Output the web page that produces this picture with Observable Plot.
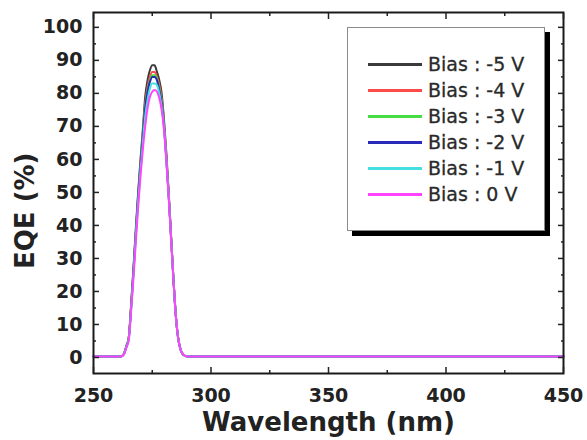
<!DOCTYPE html>
<html>
<head>
<meta charset="utf-8">
<script src="https://cdn.jsdelivr.net/npm/d3@7"></script>
<script src="https://cdn.jsdelivr.net/npm/@observablehq/plot@0.6"></script>
<style>
  html, body { margin: 0; padding: 0; background: #fff; }
  #wrap { position: relative; width: 587px; height: 440px; overflow: hidden; }
  #legend { position: absolute; left: 347px; top: 27px; width: 196px; height: 202px;
            border: 1px solid #8a8a8a; background: #fff; box-shadow: 5px 5px 0 #000;
            font-family: "DejaVu Sans", sans-serif; font-size: 19px; color: #2a2a2a;
            -webkit-text-stroke: 0.3px #2a2a2a; }
  .row { position: absolute; left: 0; height: 26px; display: flex; align-items: center; }
  .sw { width: 54px; height: 3px; margin-left: 20px; margin-right: 6px; }
</style>
</head>
<body>
<div id="wrap"></div>
<script>
const wavelengths = [250, 260, 261,
  262, 263, 264, 265, 266, 267, 268, 269, 270, 271, 272, 273, 274, 275, 276,
  277, 278, 279, 280, 281, 282, 283, 284, 285, 286, 287, 288, 289, 290,
  292, 300, 350, 400, 450];

const seriesLabels = ["Bias : -5 V", "Bias : -4 V", "Bias : -3 V", "Bias : -2 V", "Bias : -1 V", "Bias : 0 V"];
const seriesColors = ["#3a3a3a", "#ff4a4a", "#44dd44", "#2a2ab8", "#44e0e0", "#ff44ff"];

const eqeM5 = [0.3, 0.3, 0.3,
  0.4, 1.2, 3.5, 6, 16, 27, 39, 50, 60, 69, 79, 84, 87, 88.5, 88.5,
  86.5, 84, 80, 72, 62, 50, 37, 24, 13, 6, 2.5, 1, 0.5, 0.3,
  0.3, 0.3, 0.3, 0.3, 0.3];
const eqeM4 = [0.3, 0.3, 0.3,
  0.4, 1.2, 3.5, 6, 15.5, 26.5, 38, 49, 59, 68, 77, 82, 85, 86.5, 86.5,
  85, 82.5, 78.5, 71, 61, 49.5, 36.5, 24, 13, 6, 2.5, 1, 0.5, 0.3,
  0.3, 0.3, 0.3, 0.3, 0.3];
const eqeM3 = [0.3, 0.3, 0.3,
  0.4, 1.2, 3.5, 6, 15.5, 26.5, 38, 49, 58.5, 67.5, 76, 81, 84, 85.5, 85.5,
  84.5, 81.5, 77.5, 70.5, 60.5, 49, 36.5, 24, 13, 6, 2.5, 1, 0.5, 0.3,
  0.3, 0.3, 0.3, 0.3, 0.3];
const eqeM2 = [0.3, 0.3, 0.3,
  0.4, 1.1, 3.3, 5.8, 15, 26, 37.5, 48.5, 58, 67, 75.5, 80.5, 83.5, 85, 85,
  84, 81, 77, 70, 60, 49, 36.5, 24, 13, 6, 2.5, 1, 0.5, 0.3,
  0.3, 0.3, 0.3, 0.3, 0.3];
const eqeM1 = [0.3, 0.3, 0.3,
  0.4, 1.1, 3.2, 5.6, 14.5, 25, 36.5, 47, 56.5, 65, 73, 78, 81.5, 83, 83,
  82.5, 80, 76, 69.5, 60, 49, 36.5, 24, 13, 6, 2.5, 1, 0.5, 0.3,
  0.3, 0.3, 0.3, 0.3, 0.3];
const eqe0 = [0.3, 0.3, 0.3,
  0.4, 1, 3, 5.3, 14, 24, 35, 45.5, 55, 63, 70, 75.5, 79, 80.5, 81,
  80.5, 78.5, 75, 69, 59.5, 48.5, 36, 24, 13, 6, 2.5, 1, 0.5, 0.3,
  0.3, 0.3, 0.3, 0.3, 0.3];

const xMajor = [250, 300, 350, 400, 450];
const xMinor = [275, 325, 375, 425];
const yMajor = [0, 10, 20, 30, 40, 50, 60, 70, 80, 90, 100];
const yMinor = [5, 15, 25, 35, 45, 55, 65, 75, 85, 95];

const allSeries = [eqeM5, eqeM4, eqeM3, eqeM2, eqeM1, eqe0];
const data = [];
allSeries.forEach((vals, si) => {
  vals.forEach((v, i) => data.push({series: seriesLabels[si], wl: wavelengths[i], eqe: v}));
});

const font = "DejaVu Sans, sans-serif";
const tickStroke = "#222";

const chart = Plot.plot({
  width: 587,
  height: 440,
  marginLeft: 93,
  marginRight: 24,
  marginTop: 12,
  marginBottom: 67,
  style: {fontFamily: font, background: "white", color: "#222"},
  x: {domain: [250, 450]},
  y: {domain: [-4.85, 104.5]},
  color: {domain: seriesLabels, range: seriesColors},
  marks: [
    Plot.line(data, {x: "wl", y: "eqe", z: "series", stroke: "series", strokeWidth: 2, curve: "monotone-x"}),
    Plot.frame({stroke: "#1a1a1a", strokeWidth: 2}),
    Plot.axisX({anchor: "bottom", ticks: xMajor, tickSize: -6, tickPadding: 21, label: null,
      fontSize: 19, fontWeight: "bold", fontFamily: font, stroke: tickStroke, strokeWidth: 1.5}),
    Plot.axisX({anchor: "bottom", ticks: xMinor, tickSize: -3, text: null, label: null, stroke: tickStroke, strokeWidth: 1.5}),
    Plot.axisX({anchor: "top", ticks: xMajor, tickSize: -6, text: null, label: null, stroke: tickStroke, strokeWidth: 1.5}),
    Plot.axisX({anchor: "top", ticks: xMinor, tickSize: -3, text: null, label: null, stroke: tickStroke, strokeWidth: 1.5}),
    Plot.axisY({anchor: "left", ticks: yMajor, tickSize: -6, tickPadding: 17, label: null,
      fontSize: 19, fontWeight: "bold", fontFamily: font, stroke: tickStroke, strokeWidth: 1.5}),
    Plot.axisY({anchor: "left", ticks: yMinor, tickSize: -3, text: null, label: null, stroke: tickStroke, strokeWidth: 1.5}),
    Plot.axisY({anchor: "right", ticks: yMajor, tickSize: -6, text: null, label: null, stroke: tickStroke, strokeWidth: 1.5}),
    Plot.axisY({anchor: "right", ticks: yMinor, tickSize: -3, text: null, label: null, stroke: tickStroke, strokeWidth: 1.5}),
    Plot.text(["Wavelength (nm)"], {frameAnchor: "bottom", dy: 49, lineAnchor: "middle",
      fontSize: 26, fontWeight: "bold", fontFamily: font, fill: "#222"}),
    Plot.text(["EQE (%)"], {frameAnchor: "left", dx: -68, dy: 76, rotate: -90, lineAnchor: "middle",
      fontSize: 26, fontWeight: "bold", fontFamily: font, fill: "#222"})
  ]
});

const wrap = document.getElementById("wrap");
wrap.appendChild(chart);

const legend = document.createElement("div");
legend.id = "legend";
seriesLabels.forEach((lab, i) => {
  const row = document.createElement("div");
  row.className = "row";
  row.style.top = (23 + i * 26) + "px";
  const sw = document.createElement("div");
  sw.className = "sw";
  sw.style.background = seriesColors[i];
  const t = document.createElement("span");
  t.textContent = lab;
  row.appendChild(sw);
  row.appendChild(t);
  legend.appendChild(row);
});
wrap.appendChild(legend);
</script>
</body>
</html>
